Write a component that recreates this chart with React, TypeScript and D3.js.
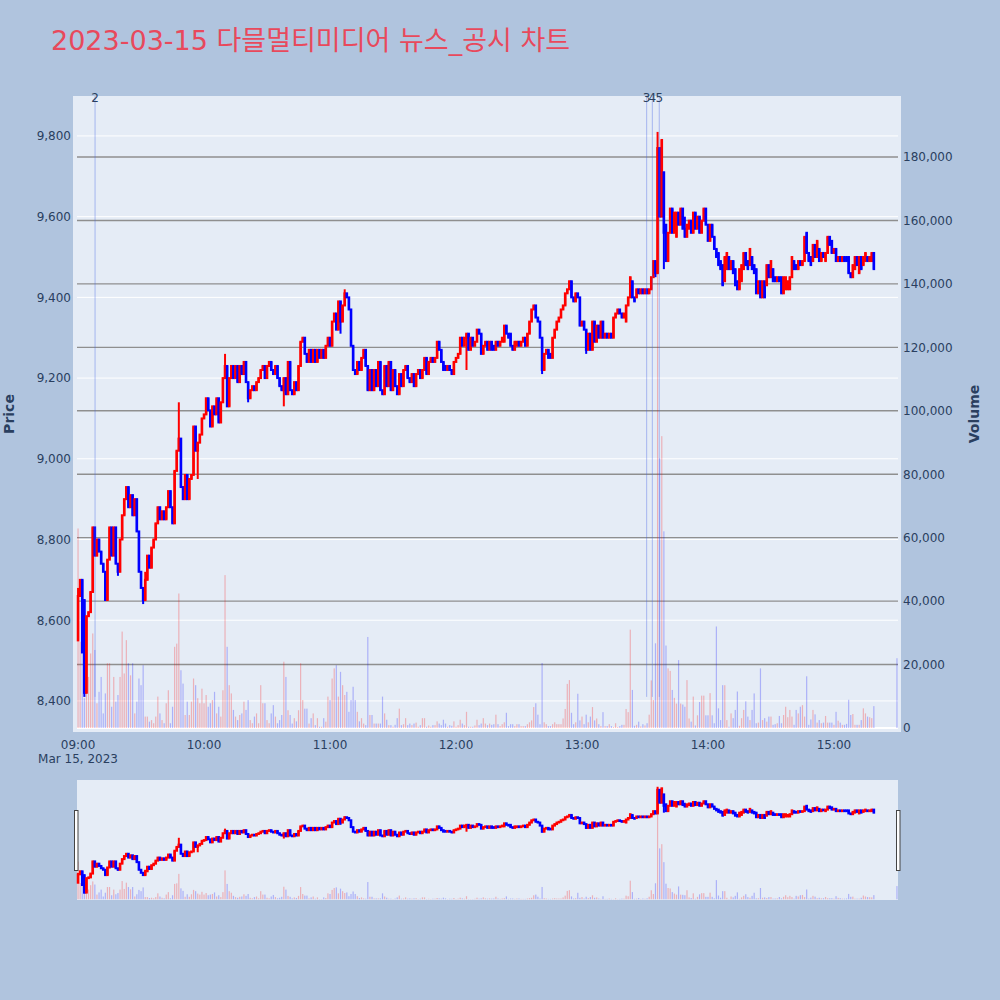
import React from "react";
import * as d3 from "d3";

// ---- data (minute index from 09:00) ----
const opens = [
  8550,8660,8700,8650,8420,8610,8620,8670,8830,8760,
  8800,8770,8740,8720,8650,8750,8830,8760,8830,8740,
  8720,8800,8860,8900,8930,8880,8910,8860,8900,8820,
  8720,8680,8650,8700,8760,8730,8780,8800,8840,8880,
  8850,8870,8850,8880,8920,8880,8840,8970,9020,9050,
  8930,8900,8960,8900,8950,8960,9080,9020,9040,9060,
  9100,9110,9150,9120,9080,9130,9110,9150,9090,9140,
  9200,9230,9130,9200,9230,9200,9230,9190,9230,9210,
  9240,9190,9150,9170,9180,9170,9190,9200,9220,9230,
  9200,9230,9240,9220,9210,9230,9200,9180,9170,9200,
  9160,9240,9170,9160,9190,9170,9230,9290,9300,9260,
  9240,9270,9240,9270,9240,9270,9250,9270,9250,9280,
  9300,9280,9340,9360,9320,9390,9340,9380,9410,9400,
  9370,9280,9220,9210,9240,9220,9250,9270,9230,9170,
  9220,9170,9220,9180,9240,9170,9160,9230,9180,9240,
  9170,9220,9180,9160,9210,9180,9220,9230,9200,9190,
  9210,9180,9210,9220,9200,9220,9250,9210,9240,9250,
  9240,9250,9290,9270,9240,9230,9220,9230,9220,9210,
  9240,9250,9260,9300,9280,9300,9310,9270,9300,9280,
  9290,9320,9310,9260,9280,9290,9270,9290,9280,9270,
  9290,9280,9290,9290,9330,9310,9310,9280,9270,9280,
  9290,9280,9290,9300,9280,9310,9340,9370,9380,9350,
  9340,9300,9220,9260,9270,9260,9250,9300,9320,9340,
  9350,9370,9380,9410,9420,9440,9400,9390,9410,9400,
  9330,9340,9320,9270,9310,9270,9340,9290,9330,9300,
  9340,9300,9310,9300,9310,9300,9350,9360,9370,9360,
  9350,9340,9380,9400,9440,9400,9400,9420,9410,9420,
  9410,9420,9410,9420,9450,9490,9460,9770,9600,9710,
  9580,9490,9560,9620,9560,9550,9610,9580,9620,9570,
  9550,9570,9590,9560,9610,9570,9600,9560,9590,9620,
  9580,9540,9580,9550,9520,9510,9490,9480,9440,9470,
  9500,9470,9490,9470,9440,9420,9440,9470,9510,9490,
  9480,9500,9480,9470,9410,9440,9400,9440,9430,9480,
  9450,9470,9450,9440,9450,9450,9410,9420,9420,9420,
  9450,9490,9480,9470,9490,9480,9490,9560,9510,9500,
  9490,9530,9500,9520,9490,9510,9490,9510,9550,9540,
  9510,9520,9490,9500,9490,9500,9500,9500,9460,9450,
  9470,9500,9460,9500,9480,9490,9500,9490,9490,9510,
];

const closes = [
  8660,8700,8520,8420,8610,8620,8670,8830,8760,8800,
  8770,8740,8720,8650,8750,8830,8760,8830,8740,8720,
  8800,8860,8900,8930,8880,8910,8860,8900,8820,8720,
  8680,8650,8700,8760,8730,8780,8800,8840,8880,8850,
  8870,8850,8880,8920,8880,8840,8970,9020,9050,8930,
  8900,8960,8900,8950,8960,9080,9020,9040,9060,9100,
  9110,9150,9120,9080,9130,9110,9150,9090,9140,9200,
  9230,9130,9200,9230,9200,9230,9190,9230,9210,9240,
  9190,9150,9170,9180,9170,9190,9200,9220,9230,9200,
  9230,9240,9220,9210,9230,9200,9180,9170,9200,9160,
  9240,9170,9160,9190,9170,9230,9290,9300,9260,9240,
  9270,9240,9270,9240,9270,9250,9270,9250,9280,9300,
  9280,9340,9360,9320,9390,9340,9380,9410,9400,9370,
  9280,9220,9210,9240,9220,9250,9270,9230,9170,9220,
  9170,9220,9180,9240,9170,9160,9230,9180,9240,9170,
  9220,9180,9160,9210,9180,9220,9230,9200,9190,9210,
  9180,9210,9220,9200,9220,9250,9210,9240,9250,9240,
  9250,9290,9270,9240,9220,9220,9230,9220,9210,9240,
  9250,9260,9300,9280,9300,9310,9270,9300,9280,9290,
  9320,9310,9260,9280,9290,9270,9290,9270,9270,9290,
  9280,9290,9300,9330,9310,9300,9280,9270,9290,9290,
  9280,9290,9300,9280,9310,9340,9370,9380,9350,9340,
  9300,9220,9260,9270,9250,9250,9300,9320,9340,9350,
  9370,9380,9410,9420,9440,9400,9390,9410,9400,9330,
  9340,9320,9270,9310,9270,9340,9290,9330,9300,9340,
  9300,9310,9300,9310,9300,9350,9360,9370,9360,9350,
  9360,9380,9400,9450,9400,9390,9420,9410,9420,9410,
  9420,9410,9420,9450,9490,9460,9770,9600,9790,9560,
  9490,9560,9620,9560,9610,9610,9580,9620,9570,9550,
  9580,9590,9560,9610,9570,9600,9560,9590,9620,9580,
  9540,9580,9550,9520,9500,9480,9470,9430,9500,9510,
  9470,9490,9460,9430,9420,9470,9480,9510,9480,9470,
  9520,9470,9460,9410,9440,9400,9440,9400,9480,9450,
  9490,9440,9440,9450,9440,9410,9450,9450,9440,9450,
  9500,9470,9470,9490,9480,9490,9550,9510,9490,9480,
  9530,9500,9540,9490,9510,9500,9510,9550,9530,9510,
  9520,9490,9500,9490,9500,9490,9490,9460,9450,9480,
  9500,9480,9500,9470,9500,9510,9490,9500,9510,9470,
];

const volumes = [
  62900,27200,23500,9400,19300,16100,23500,29800,24600,7800,
  11400,16100,4600,10900,20400,20400,6700,16100,8300,10400,
  16100,30400,17200,27700,20400,16600,20400,4600,8300,15600,
  13500,19800,3600,3600,2000,2500,1500,3600,9900,4600,
  2500,1500,7800,11900,1500,6700,25600,26600,42400,18200,
  14000,4100,8300,4100,8300,15600,13500,9400,7800,12400,
  7800,10400,6700,7800,8800,11400,4600,6700,3600,11900,
  48200,25600,13500,10900,5700,3600,2500,4100,4600,8300,
  5700,8800,2500,1500,3600,4600,1500,13500,7800,7800,
  2500,1500,4600,7200,3600,1500,2500,4100,20900,16100,
  5600,4100,1400,3100,2100,5600,20400,8800,6100,6100,
  1400,3100,4600,900,3100,400,400,3100,2000,9900,
  8800,15600,18800,19800,9900,17700,13500,10400,11400,5100,
  8800,13000,8800,5100,2100,3100,1400,900,28700,4100,
  4100,1400,1400,1400,1400,9900,4600,2600,900,900,
  400,1000,3100,6100,900,1200,3100,900,1400,900,
  1400,1700,400,900,3100,3100,400,800,400,900,
  900,2100,1400,900,2600,1400,400,900,700,2100,
  400,900,2600,1400,900,5100,400,400,400,800,
  2600,900,1400,3100,1400,900,1400,1000,1200,4200,
  1200,600,1200,1800,4800,600,1200,1200,600,1200,
  1200,600,600,600,1200,1800,2400,6600,7800,4200,
  1200,20500,1800,1200,600,600,1200,1800,1200,1200,
  1200,3000,6000,13900,15100,4800,1200,1800,10800,2400,
  3600,1200,4200,1800,3600,6600,2400,3000,1200,600,
  5000,600,600,1200,600,300,1500,300,600,1000,
  1000,6000,5000,31000,12000,700,1000,2000,500,1200,
  800,1500,4200,15000,8800,26700,187000,85000,92000,62000,
  26000,18800,18000,12000,9500,7700,21400,7700,7400,6700,
  15100,3000,2000,9900,800,4000,8200,10200,10200,4000,
  4000,11000,4000,1500,32000,6200,2500,13500,13500,2500,
  400,4600,3100,5700,11500,700,3100,5700,8400,3600,
  2500,5700,10900,1500,1700,18800,2500,3100,2000,3600,
  3600,1000,1200,1500,3800,1500,4100,6700,3400,5700,
  3600,1000,5700,4600,6700,7200,3600,16300,1000,2700,
  5700,4300,1700,2500,1500,1700,3800,1700,1700,1700,
  1000,5100,2300,1700,1000,1000,1300,8900,4100,4400,
  1000,1000,1000,2500,6200,4600,3600,3400,3100,6900,
];

// extra wick extremes [minute, price]
const highWicks = [[0, 8680], [32, 8720], [48, 9140], [70, 9260], [127, 9420], [276, 9810], [289, 9600]];
const lowWicks = [[3, 8410], [19, 8710], [31, 8640], [57, 8950], [81, 9140], [98, 9130], [125, 9310], [185, 9220], [221, 9210], [242, 9260], [275, 9450], [279, 9470]];

// closing auction at 15:30
const auctionMinute = 390;
const auctionPrice = 9470;
const auctionVolume = 22000;

// news / disclosure markers
const eventLabels = ["2", "3", "4", "5"];
const eventMinutes = [8.1, 270.8, 273.5, 276.8];
const dayLow = 8410;

const priceTicks = [8400, 8600, 8800, 9000, 9200, 9400, 9600, 9800];
const volumeTicks = [0, 20000, 40000, 60000, 80000, 100000, 120000, 140000, 160000, 180000];
const timeTicks = ["09:00", "10:00", "11:00", "12:00", "13:00", "14:00", "15:00"];

const titleText = "2023-03-15 다믈멀티미디어 뉴스_공시 차트";

// ---- layout ----
const FONT = "'DejaVu Sans', 'Noto Sans CJK KR', sans-serif";
const TXT = "#2a3f5f";
const UP = "#ff0000";
const DOWN = "#0000ff";

type Candle = { m: number; o: number; c: number; h: number; l: number; v: number };

const candles: Candle[] = opens.map((o, i) => {
  const c = closes[i];
  const hw = highWicks.find((w) => w[0] === i);
  const lw = lowWicks.find((w) => w[0] === i);
  return {
    m: i,
    o,
    c,
    h: Math.max(o, c, hw ? hw[1] : -Infinity),
    l: Math.min(o, c, lw ? lw[1] : Infinity),
    v: volumes[i],
  };
});
candles.push({ m: auctionMinute, o: auctionPrice, c: auctionPrice, h: auctionPrice, l: auctionPrice, v: auctionVolume });

const x = d3.scaleLinear().domain([-0.5, 390.5]).range([77, 898]);
const yP = d3.scaleLinear().domain([8323, 9899]).range([732, 96]);
const yV = d3.scaleLinear().domain([-1261, 199230]).range([732, 96]);
const yPs = d3.scaleLinear().domain([8323, 9899]).range([900, 780]);
const yVs = d3.scaleLinear().domain([-1261, 199230]).range([900, 780]);

const fmt = d3.format(",");

function tickMinute(t: string) {
  const [h, mm] = t.split(":").map(Number);
  return (h - 9) * 60 + mm;
}

function Candles({ ys, prefix }: { ys: d3.ScaleLinear<number, number>; prefix: string }) {
  return (
    <g>
      {candles.map((d) => {
        const up = d.c > d.o;
        const col = up ? UP : DOWN;
        const cx = x(d.m);
        const top = ys(Math.max(d.o, d.c));
        const bot = ys(Math.min(d.o, d.c));
        return (
          <g key={prefix + d.m}>
            <line x1={cx} x2={cx} y1={ys(d.h)} y2={ys(d.l)} stroke={col} strokeWidth={2} />
            <rect x={cx - 0.3} width={0.6} y={top} height={Math.max(0, bot - top)} fill={col} stroke={col} strokeWidth={2} />
          </g>
        );
      })}
    </g>
  );
}

function Volumes({ ys, prefix }: { ys: d3.ScaleLinear<number, number>; prefix: string }) {
  return (
    <g>
      {candles.map((d) => {
        const up = d.c > d.o;
        const col = up ? "rgba(255,0,0,0.25)" : "rgba(0,0,255,0.25)";
        const cx = x(d.m);
        return <rect key={prefix + d.m} x={cx - 0.6} width={1.2} y={ys(d.v)} height={ys(0) - ys(d.v)} fill={col} />;
      })}
    </g>
  );
}

export default function App() {
  return (
    <svg width={1000} height={1000} style={{ position: "absolute", left: 0, top: 0, display: "block" }} fontFamily={FONT}>
      <rect x={0} y={0} width={1000} height={1000} fill="#b0c4de" />
      {/* main plot background */}
      <rect x={73} y={96} width={828} height={636} fill="#e5ecf6" />

      {/* price grid */}
      {priceTicks.map((t) => (
        <line key={"pg" + t} x1={77} x2={898} y1={yP(t)} y2={yP(t)} stroke="#ffffff" strokeWidth={1} />
      ))}
      {/* volume grid */}
      {volumeTicks.filter((t) => t > 0).map((t) => (
        <line key={"vg" + t} x1={77} x2={898} y1={yV(t)} y2={yV(t)} stroke="#8f8f8f" strokeWidth={1.4} />
      ))}
      <line x1={77} x2={898} y1={yV(0)} y2={yV(0)} stroke="#ffffff" strokeWidth={2} />

      <Volumes ys={yV} prefix="v" />
      <Candles ys={yP} prefix="c" />

      {/* event lines */}
      {eventMinutes.map((m, i) => (
        <line key={"ev" + i} x1={x(m)} x2={x(m)} y1={96} y2={yP(dayLow)} stroke="rgba(70,100,230,0.4)" strokeWidth={1} />
      ))}
      {eventLabels.map((lab, i) => (
        <text key={"el" + i} x={x(eventMinutes[i])} y={101.5} fontSize={12} fill={TXT} textAnchor="middle">
          {lab}
        </text>
      ))}

      {/* left axis labels */}
      {priceTicks.map((t) => (
        <text key={"pl" + t} x={71} y={yP(t)} dy="0.36em" fontSize={12} fill={TXT} textAnchor="end">
          {fmt(t)}
        </text>
      ))}
      {/* right axis labels */}
      {volumeTicks.map((t) => (
        <text key={"vl" + t} x={903} y={yV(t)} dy="0.36em" fontSize={12} fill={TXT} textAnchor="start">
          {fmt(t)}
        </text>
      ))}
      {/* x axis labels */}
      {timeTicks.map((t) => (
        <text key={"xl" + t} x={x(tickMinute(t))} y={749} fontSize={12} fill={TXT} textAnchor="middle">
          {t}
        </text>
      ))}
      <text x={x(0)} y={763} fontSize={12} fill={TXT} textAnchor="middle">
        Mar 15, 2023
      </text>

      {/* axis titles */}
      <text transform="translate(14,414) rotate(-90)" fontSize={14} fontWeight="bold" fill={TXT} textAnchor="middle">
        Price
      </text>
      <text transform="translate(979,414) rotate(-90)" fontSize={14} fontWeight="bold" fill={TXT} textAnchor="middle">
        Volume
      </text>

      {/* title */}
      <text x={51} y={50} fontSize={27} fill="#e8495c">
        {titleText}
      </text>

      {/* range slider */}
      <rect x={77} y={780} width={821} height={120} fill="#e5ecf6" />
      <Volumes ys={yVs} prefix="sv" />
      <Candles ys={yPs} prefix="sc" />
      <rect x={74.5} y={810.5} width={3.5} height={60} fill="#ffffff" stroke="#444" strokeWidth={1} />
      <rect x={896.5} y={810.5} width={3.5} height={60} fill="#ffffff" stroke="#444" strokeWidth={1} />
    </svg>
  );
}
